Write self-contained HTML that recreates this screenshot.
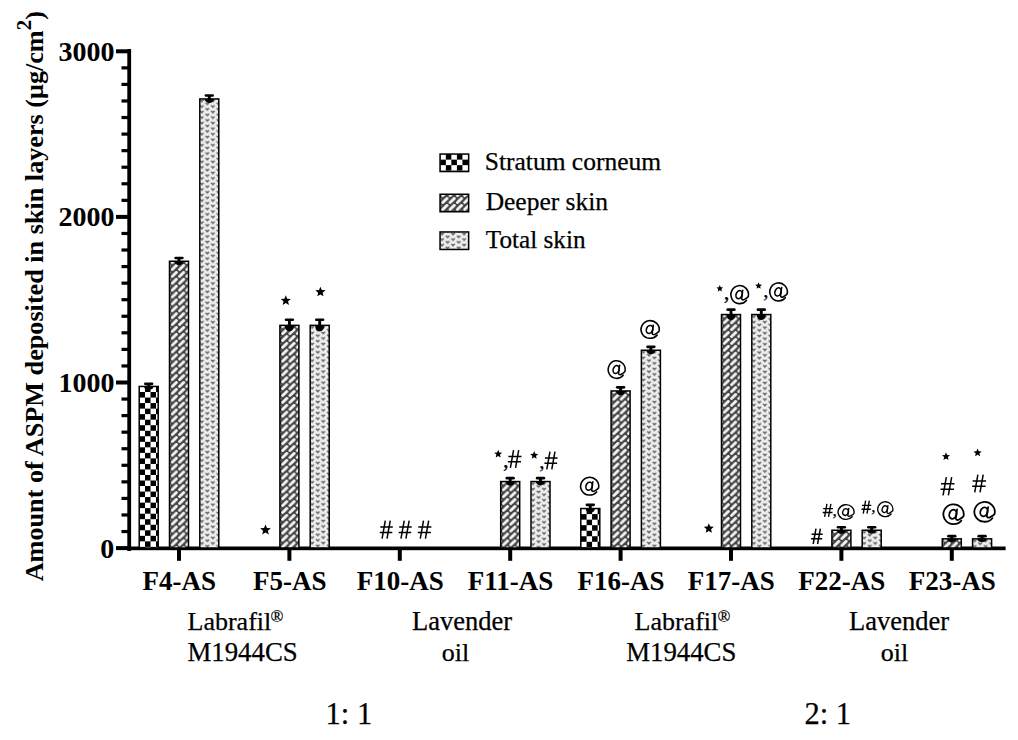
<!DOCTYPE html>
<html><head><meta charset="utf-8"><style>
html,body{margin:0;padding:0;background:#fff;}
svg{display:block;}
text{font-family:"Liberation Serif",serif;fill:#000;}
text.r{stroke:#000;stroke-width:0.25px;}
</style></head><body>
<svg width="1018" height="740" viewBox="0 0 1018 740">
<defs>
<pattern id="p0" patternUnits="userSpaceOnUse" width="11.06" height="11.06" x="139.45" y="386.50"><rect width="11.06" height="11.06" fill="#fff"/><rect x="5.53" width="5.53" height="5.53" fill="#000"/><rect y="5.53" width="5.53" height="5.53" fill="#000"/></pattern>
<pattern id="p1" patternUnits="userSpaceOnUse" width="7.3" height="6.88" x="170.75" y="264.10"><rect width="7.3" height="6.88" fill="#444"/><line x1="1.5" y1="5.4" x2="5.7" y2="1.4" stroke="#f2f2f2" stroke-width="2.9" stroke-linecap="round"/></pattern>
<pattern id="p2" patternUnits="userSpaceOnUse" width="11.06" height="5.53" x="199.05" y="98.20"><rect width="11.06" height="5.53" fill="#eeeeee"/><path d="M0.35 1.95Q1.55 0.65 2.75 2.25Q3.95 0.65 5.15 1.95L2.75 4.65Z" fill="#666"/><path d="M5.90 -0.80Q7.10 -2.10 8.30 -0.50Q9.50 -2.10 10.70 -0.80L8.30 1.90Z" fill="#666"/><path d="M5.90 4.73Q7.10 3.43 8.30 5.03Q9.50 3.43 10.70 4.73L8.30 7.43Z" fill="#666"/><path d="M0.35 -3.58Q1.55 -4.88 2.75 -3.28Q3.95 -4.88 5.15 -3.58L2.75 -0.88Z" fill="#666"/><path d="M11.40 1.95Q12.60 0.65 13.80 2.25Q15.00 0.65 16.20 1.95L13.80 4.65Z" fill="#666"/><path d="M-5.15 -0.80Q-3.95 -2.10 -2.75 -0.50Q-1.55 -2.10 -0.35 -0.80L-2.75 1.90Z" fill="#666"/><path d="M-5.15 4.73Q-3.95 3.43 -2.75 5.03Q-1.55 3.43 -0.35 4.73L-2.75 7.43Z" fill="#666"/></pattern>
<pattern id="p3" patternUnits="userSpaceOnUse" width="7.3" height="6.88" x="281.15" y="328.20"><rect width="7.3" height="6.88" fill="#444"/><line x1="1.5" y1="5.4" x2="5.7" y2="1.4" stroke="#f2f2f2" stroke-width="2.9" stroke-linecap="round"/></pattern>
<pattern id="p4" patternUnits="userSpaceOnUse" width="11.06" height="5.53" x="309.45" y="324.60"><rect width="11.06" height="5.53" fill="#eeeeee"/><path d="M0.35 1.95Q1.55 0.65 2.75 2.25Q3.95 0.65 5.15 1.95L2.75 4.65Z" fill="#666"/><path d="M5.90 -0.80Q7.10 -2.10 8.30 -0.50Q9.50 -2.10 10.70 -0.80L8.30 1.90Z" fill="#666"/><path d="M5.90 4.73Q7.10 3.43 8.30 5.03Q9.50 3.43 10.70 4.73L8.30 7.43Z" fill="#666"/><path d="M0.35 -3.58Q1.55 -4.88 2.75 -3.28Q3.95 -4.88 5.15 -3.58L2.75 -0.88Z" fill="#666"/><path d="M11.40 1.95Q12.60 0.65 13.80 2.25Q15.00 0.65 16.20 1.95L13.80 4.65Z" fill="#666"/><path d="M-5.15 -0.80Q-3.95 -2.10 -2.75 -0.50Q-1.55 -2.10 -0.35 -0.80L-2.75 1.90Z" fill="#666"/><path d="M-5.15 4.73Q-3.95 3.43 -2.75 5.03Q-1.55 3.43 -0.35 4.73L-2.75 7.43Z" fill="#666"/></pattern>
<pattern id="p5" patternUnits="userSpaceOnUse" width="7.3" height="6.88" x="501.95" y="484.40"><rect width="7.3" height="6.88" fill="#444"/><line x1="1.5" y1="5.4" x2="5.7" y2="1.4" stroke="#f2f2f2" stroke-width="2.9" stroke-linecap="round"/></pattern>
<pattern id="p6" patternUnits="userSpaceOnUse" width="11.06" height="5.53" x="530.25" y="480.80"><rect width="11.06" height="5.53" fill="#eeeeee"/><path d="M0.35 1.95Q1.55 0.65 2.75 2.25Q3.95 0.65 5.15 1.95L2.75 4.65Z" fill="#666"/><path d="M5.90 -0.80Q7.10 -2.10 8.30 -0.50Q9.50 -2.10 10.70 -0.80L8.30 1.90Z" fill="#666"/><path d="M5.90 4.73Q7.10 3.43 8.30 5.03Q9.50 3.43 10.70 4.73L8.30 7.43Z" fill="#666"/><path d="M0.35 -3.58Q1.55 -4.88 2.75 -3.28Q3.95 -4.88 5.15 -3.58L2.75 -0.88Z" fill="#666"/><path d="M11.40 1.95Q12.60 0.65 13.80 2.25Q15.00 0.65 16.20 1.95L13.80 4.65Z" fill="#666"/><path d="M-5.15 -0.80Q-3.95 -2.10 -2.75 -0.50Q-1.55 -2.10 -0.35 -0.80L-2.75 1.90Z" fill="#666"/><path d="M-5.15 4.73Q-3.95 3.43 -2.75 5.03Q-1.55 3.43 -0.35 4.73L-2.75 7.43Z" fill="#666"/></pattern>
<pattern id="p7" patternUnits="userSpaceOnUse" width="11.06" height="11.06" x="581.05" y="508.60"><rect width="11.06" height="11.06" fill="#fff"/><rect x="5.53" width="5.53" height="5.53" fill="#000"/><rect y="5.53" width="5.53" height="5.53" fill="#000"/></pattern>
<pattern id="p8" patternUnits="userSpaceOnUse" width="7.3" height="6.88" x="612.35" y="393.80"><rect width="7.3" height="6.88" fill="#444"/><line x1="1.5" y1="5.4" x2="5.7" y2="1.4" stroke="#f2f2f2" stroke-width="2.9" stroke-linecap="round"/></pattern>
<pattern id="p9" patternUnits="userSpaceOnUse" width="11.06" height="5.53" x="640.65" y="349.50"><rect width="11.06" height="5.53" fill="#eeeeee"/><path d="M0.35 1.95Q1.55 0.65 2.75 2.25Q3.95 0.65 5.15 1.95L2.75 4.65Z" fill="#666"/><path d="M5.90 -0.80Q7.10 -2.10 8.30 -0.50Q9.50 -2.10 10.70 -0.80L8.30 1.90Z" fill="#666"/><path d="M5.90 4.73Q7.10 3.43 8.30 5.03Q9.50 3.43 10.70 4.73L8.30 7.43Z" fill="#666"/><path d="M0.35 -3.58Q1.55 -4.88 2.75 -3.28Q3.95 -4.88 5.15 -3.58L2.75 -0.88Z" fill="#666"/><path d="M11.40 1.95Q12.60 0.65 13.80 2.25Q15.00 0.65 16.20 1.95L13.80 4.65Z" fill="#666"/><path d="M-5.15 -0.80Q-3.95 -2.10 -2.75 -0.50Q-1.55 -2.10 -0.35 -0.80L-2.75 1.90Z" fill="#666"/><path d="M-5.15 4.73Q-3.95 3.43 -2.75 5.03Q-1.55 3.43 -0.35 4.73L-2.75 7.43Z" fill="#666"/></pattern>
<pattern id="p10" patternUnits="userSpaceOnUse" width="7.3" height="6.88" x="722.75" y="317.40"><rect width="7.3" height="6.88" fill="#444"/><line x1="1.5" y1="5.4" x2="5.7" y2="1.4" stroke="#f2f2f2" stroke-width="2.9" stroke-linecap="round"/></pattern>
<pattern id="p11" patternUnits="userSpaceOnUse" width="11.06" height="5.53" x="751.05" y="313.80"><rect width="11.06" height="5.53" fill="#eeeeee"/><path d="M0.35 1.95Q1.55 0.65 2.75 2.25Q3.95 0.65 5.15 1.95L2.75 4.65Z" fill="#666"/><path d="M5.90 -0.80Q7.10 -2.10 8.30 -0.50Q9.50 -2.10 10.70 -0.80L8.30 1.90Z" fill="#666"/><path d="M5.90 4.73Q7.10 3.43 8.30 5.03Q9.50 3.43 10.70 4.73L8.30 7.43Z" fill="#666"/><path d="M0.35 -3.58Q1.55 -4.88 2.75 -3.28Q3.95 -4.88 5.15 -3.58L2.75 -0.88Z" fill="#666"/><path d="M11.40 1.95Q12.60 0.65 13.80 2.25Q15.00 0.65 16.20 1.95L13.80 4.65Z" fill="#666"/><path d="M-5.15 -0.80Q-3.95 -2.10 -2.75 -0.50Q-1.55 -2.10 -0.35 -0.80L-2.75 1.90Z" fill="#666"/><path d="M-5.15 4.73Q-3.95 3.43 -2.75 5.03Q-1.55 3.43 -0.35 4.73L-2.75 7.43Z" fill="#666"/></pattern>
<pattern id="p12" patternUnits="userSpaceOnUse" width="7.3" height="6.88" x="833.15" y="533.10"><rect width="7.3" height="6.88" fill="#444"/><line x1="1.5" y1="5.4" x2="5.7" y2="1.4" stroke="#f2f2f2" stroke-width="2.9" stroke-linecap="round"/></pattern>
<pattern id="p13" patternUnits="userSpaceOnUse" width="11.06" height="5.53" x="861.45" y="529.50"><rect width="11.06" height="5.53" fill="#eeeeee"/><path d="M0.35 1.95Q1.55 0.65 2.75 2.25Q3.95 0.65 5.15 1.95L2.75 4.65Z" fill="#666"/><path d="M5.90 -0.80Q7.10 -2.10 8.30 -0.50Q9.50 -2.10 10.70 -0.80L8.30 1.90Z" fill="#666"/><path d="M5.90 4.73Q7.10 3.43 8.30 5.03Q9.50 3.43 10.70 4.73L8.30 7.43Z" fill="#666"/><path d="M0.35 -3.58Q1.55 -4.88 2.75 -3.28Q3.95 -4.88 5.15 -3.58L2.75 -0.88Z" fill="#666"/><path d="M11.40 1.95Q12.60 0.65 13.80 2.25Q15.00 0.65 16.20 1.95L13.80 4.65Z" fill="#666"/><path d="M-5.15 -0.80Q-3.95 -2.10 -2.75 -0.50Q-1.55 -2.10 -0.35 -0.80L-2.75 1.90Z" fill="#666"/><path d="M-5.15 4.73Q-3.95 3.43 -2.75 5.03Q-1.55 3.43 -0.35 4.73L-2.75 7.43Z" fill="#666"/></pattern>
<pattern id="p14" patternUnits="userSpaceOnUse" width="7.3" height="6.88" x="943.55" y="541.70"><rect width="7.3" height="6.88" fill="#444"/><line x1="1.5" y1="5.4" x2="5.7" y2="1.4" stroke="#f2f2f2" stroke-width="2.9" stroke-linecap="round"/></pattern>
<pattern id="p15" patternUnits="userSpaceOnUse" width="11.06" height="5.53" x="971.85" y="538.10"><rect width="11.06" height="5.53" fill="#eeeeee"/><path d="M0.35 1.95Q1.55 0.65 2.75 2.25Q3.95 0.65 5.15 1.95L2.75 4.65Z" fill="#666"/><path d="M5.90 -0.80Q7.10 -2.10 8.30 -0.50Q9.50 -2.10 10.70 -0.80L8.30 1.90Z" fill="#666"/><path d="M5.90 4.73Q7.10 3.43 8.30 5.03Q9.50 3.43 10.70 4.73L8.30 7.43Z" fill="#666"/><path d="M0.35 -3.58Q1.55 -4.88 2.75 -3.28Q3.95 -4.88 5.15 -3.58L2.75 -0.88Z" fill="#666"/><path d="M11.40 1.95Q12.60 0.65 13.80 2.25Q15.00 0.65 16.20 1.95L13.80 4.65Z" fill="#666"/><path d="M-5.15 -0.80Q-3.95 -2.10 -2.75 -0.50Q-1.55 -2.10 -0.35 -0.80L-2.75 1.90Z" fill="#666"/><path d="M-5.15 4.73Q-3.95 3.43 -2.75 5.03Q-1.55 3.43 -0.35 4.73L-2.75 7.43Z" fill="#666"/></pattern>
<pattern id="L0" patternUnits="userSpaceOnUse" width="11.06" height="11.06" x="440.30" y="154.10"><rect width="11.06" height="11.06" fill="#fff"/><rect x="5.53" width="5.53" height="5.53" fill="#000"/><rect y="5.53" width="5.53" height="5.53" fill="#000"/></pattern>
<pattern id="L1" patternUnits="userSpaceOnUse" width="7.3" height="6.88" x="441.30" y="197.10"><rect width="7.3" height="6.88" fill="#444"/><line x1="1.5" y1="5.4" x2="5.7" y2="1.4" stroke="#f2f2f2" stroke-width="2.9" stroke-linecap="round"/></pattern>
<pattern id="L2" patternUnits="userSpaceOnUse" width="11.06" height="5.53" x="439.30" y="231.20"><rect width="11.06" height="5.53" fill="#eeeeee"/><path d="M0.35 1.95Q1.55 0.65 2.75 2.25Q3.95 0.65 5.15 1.95L2.75 4.65Z" fill="#666"/><path d="M5.90 -0.80Q7.10 -2.10 8.30 -0.50Q9.50 -2.10 10.70 -0.80L8.30 1.90Z" fill="#666"/><path d="M5.90 4.73Q7.10 3.43 8.30 5.03Q9.50 3.43 10.70 4.73L8.30 7.43Z" fill="#666"/><path d="M0.35 -3.58Q1.55 -4.88 2.75 -3.28Q3.95 -4.88 5.15 -3.58L2.75 -0.88Z" fill="#666"/><path d="M11.40 1.95Q12.60 0.65 13.80 2.25Q15.00 0.65 16.20 1.95L13.80 4.65Z" fill="#666"/><path d="M-5.15 -0.80Q-3.95 -2.10 -2.75 -0.50Q-1.55 -2.10 -0.35 -0.80L-2.75 1.90Z" fill="#666"/><path d="M-5.15 4.73Q-3.95 3.43 -2.75 5.03Q-1.55 3.43 -0.35 4.73L-2.75 7.43Z" fill="#666"/></pattern>
</defs>

<g fill="#000">
<rect x="127.3" y="49" width="3.8" height="502"/>
<rect x="127.3" y="546.5" width="878.3" height="3.7"/>
<rect x="116" y="546.10" width="13" height="4"/>
<rect x="121.5" y="529.94" width="7" height="3.2"/>
<rect x="121.5" y="513.38" width="7" height="3.2"/>
<rect x="121.5" y="496.82" width="7" height="3.2"/>
<rect x="121.5" y="480.26" width="7" height="3.2"/>
<rect x="121.5" y="463.70" width="7" height="3.2"/>
<rect x="121.5" y="447.14" width="7" height="3.2"/>
<rect x="121.5" y="430.58" width="7" height="3.2"/>
<rect x="121.5" y="414.02" width="7" height="3.2"/>
<rect x="121.5" y="397.46" width="7" height="3.2"/>
<rect x="116" y="380.50" width="13" height="4"/>
<rect x="121.5" y="364.34" width="7" height="3.2"/>
<rect x="121.5" y="347.78" width="7" height="3.2"/>
<rect x="121.5" y="331.22" width="7" height="3.2"/>
<rect x="121.5" y="314.66" width="7" height="3.2"/>
<rect x="121.5" y="298.10" width="7" height="3.2"/>
<rect x="121.5" y="281.54" width="7" height="3.2"/>
<rect x="121.5" y="264.98" width="7" height="3.2"/>
<rect x="121.5" y="248.42" width="7" height="3.2"/>
<rect x="121.5" y="231.86" width="7" height="3.2"/>
<rect x="116" y="214.90" width="13" height="4"/>
<rect x="121.5" y="198.74" width="7" height="3.2"/>
<rect x="121.5" y="182.18" width="7" height="3.2"/>
<rect x="121.5" y="165.62" width="7" height="3.2"/>
<rect x="121.5" y="149.06" width="7" height="3.2"/>
<rect x="121.5" y="132.50" width="7" height="3.2"/>
<rect x="121.5" y="115.94" width="7" height="3.2"/>
<rect x="121.5" y="99.38" width="7" height="3.2"/>
<rect x="121.5" y="82.82" width="7" height="3.2"/>
<rect x="121.5" y="66.26" width="7" height="3.2"/>
<rect x="116" y="49.30" width="13" height="4"/>
<rect x="177.00" y="548" width="4" height="12.8"/>
<rect x="287.40" y="548" width="4" height="12.8"/>
<rect x="397.80" y="548" width="4" height="12.8"/>
<rect x="508.20" y="548" width="4" height="12.8"/>
<rect x="618.60" y="548" width="4" height="12.8"/>
<rect x="729.00" y="548" width="4" height="12.8"/>
<rect x="839.40" y="548" width="4" height="12.8"/>
<rect x="949.80" y="548" width="4" height="12.8"/>
</g>
<rect x="139.20" y="386.45" width="19.00" height="161.55" fill="url(#p0)" stroke="#000" stroke-width="1.5"/>
<rect x="169.50" y="261.25" width="19.00" height="286.75" fill="url(#p1)" stroke="#000" stroke-width="1.5"/>
<rect x="199.80" y="98.95" width="19.00" height="449.05" fill="url(#p2)" stroke="#000" stroke-width="1.5"/>
<rect x="279.90" y="325.35" width="19.00" height="222.65" fill="url(#p3)" stroke="#000" stroke-width="1.5"/>
<rect x="310.20" y="325.35" width="19.00" height="222.65" fill="url(#p4)" stroke="#000" stroke-width="1.5"/>
<rect x="500.70" y="481.55" width="19.00" height="66.45" fill="url(#p5)" stroke="#000" stroke-width="1.5"/>
<rect x="531.00" y="481.55" width="19.00" height="66.45" fill="url(#p6)" stroke="#000" stroke-width="1.5"/>
<rect x="580.80" y="508.55" width="19.00" height="39.45" fill="url(#p7)" stroke="#000" stroke-width="1.5"/>
<rect x="611.10" y="390.95" width="19.00" height="157.05" fill="url(#p8)" stroke="#000" stroke-width="1.5"/>
<rect x="641.40" y="350.25" width="19.00" height="197.75" fill="url(#p9)" stroke="#000" stroke-width="1.5"/>
<rect x="721.50" y="314.55" width="19.00" height="233.45" fill="url(#p10)" stroke="#000" stroke-width="1.5"/>
<rect x="751.80" y="314.55" width="19.00" height="233.45" fill="url(#p11)" stroke="#000" stroke-width="1.5"/>
<rect x="831.90" y="530.25" width="19.00" height="17.75" fill="url(#p12)" stroke="#000" stroke-width="1.5"/>
<rect x="862.20" y="530.25" width="19.00" height="17.75" fill="url(#p13)" stroke="#000" stroke-width="1.5"/>
<rect x="942.30" y="538.85" width="19.00" height="9.15" fill="url(#p14)" stroke="#000" stroke-width="1.5"/>
<rect x="972.60" y="538.85" width="19.00" height="9.15" fill="url(#p15)" stroke="#000" stroke-width="1.5"/>
<path d="M148.70 383.85V387.45" stroke="#000" stroke-width="2.9" fill="none"/>
<path d="M145.30 383.85H152.10" stroke="#000" stroke-width="2.6" fill="none" stroke-linecap="round"/>
<path d="M144.10 386.45A4.6 3.20 0 0 0 153.30 386.45Z" fill="#000"/>
<path d="M179.00 258.05V262.25" stroke="#000" stroke-width="2.9" fill="none"/>
<path d="M175.60 258.05H182.40" stroke="#000" stroke-width="2.6" fill="none" stroke-linecap="round"/>
<path d="M174.40 261.25A4.6 3.80 0 0 0 183.60 261.25Z" fill="#000"/>
<path d="M209.30 95.45V99.95" stroke="#000" stroke-width="2.9" fill="none"/>
<path d="M205.90 95.45H212.70" stroke="#000" stroke-width="2.6" fill="none" stroke-linecap="round"/>
<path d="M204.70 98.95A4.6 4.10 0 0 0 213.90 98.95Z" fill="#000"/>
<path d="M289.40 319.75V326.35" stroke="#000" stroke-width="2.9" fill="none"/>
<path d="M286.00 319.75H292.80" stroke="#000" stroke-width="2.6" fill="none" stroke-linecap="round"/>
<path d="M284.80 325.35A4.6 6.20 0 0 0 294.00 325.35Z" fill="#000"/>
<path d="M319.70 319.75V326.35" stroke="#000" stroke-width="2.9" fill="none"/>
<path d="M316.30 319.75H323.10" stroke="#000" stroke-width="2.6" fill="none" stroke-linecap="round"/>
<path d="M315.10 325.35A4.6 6.20 0 0 0 324.30 325.35Z" fill="#000"/>
<path d="M510.20 478.15V482.55" stroke="#000" stroke-width="2.9" fill="none"/>
<path d="M506.80 478.15H513.60" stroke="#000" stroke-width="2.6" fill="none" stroke-linecap="round"/>
<path d="M505.60 481.55A4.6 4.00 0 0 0 514.80 481.55Z" fill="#000"/>
<path d="M540.50 478.15V482.55" stroke="#000" stroke-width="2.9" fill="none"/>
<path d="M537.10 478.15H543.90" stroke="#000" stroke-width="2.6" fill="none" stroke-linecap="round"/>
<path d="M535.90 481.55A4.6 4.00 0 0 0 545.10 481.55Z" fill="#000"/>
<path d="M590.30 504.85V509.55" stroke="#000" stroke-width="2.9" fill="none"/>
<path d="M586.90 504.85H593.70" stroke="#000" stroke-width="2.6" fill="none" stroke-linecap="round"/>
<path d="M585.70 508.55A4.6 4.30 0 0 0 594.90 508.55Z" fill="#000"/>
<path d="M620.60 387.35V391.95" stroke="#000" stroke-width="2.9" fill="none"/>
<path d="M617.20 387.35H624.00" stroke="#000" stroke-width="2.6" fill="none" stroke-linecap="round"/>
<path d="M616.00 390.95A4.6 4.20 0 0 0 625.20 390.95Z" fill="#000"/>
<path d="M650.90 346.85V351.25" stroke="#000" stroke-width="2.9" fill="none"/>
<path d="M647.50 346.85H654.30" stroke="#000" stroke-width="2.6" fill="none" stroke-linecap="round"/>
<path d="M646.30 350.25A4.6 4.00 0 0 0 655.50 350.25Z" fill="#000"/>
<path d="M731.00 309.65V315.55" stroke="#000" stroke-width="2.9" fill="none"/>
<path d="M727.60 309.65H734.40" stroke="#000" stroke-width="2.6" fill="none" stroke-linecap="round"/>
<path d="M726.40 314.55A4.6 5.50 0 0 0 735.60 314.55Z" fill="#000"/>
<path d="M761.30 309.65V315.55" stroke="#000" stroke-width="2.9" fill="none"/>
<path d="M757.90 309.65H764.70" stroke="#000" stroke-width="2.6" fill="none" stroke-linecap="round"/>
<path d="M756.70 314.55A4.6 5.50 0 0 0 765.90 314.55Z" fill="#000"/>
<path d="M841.40 527.25V531.25" stroke="#000" stroke-width="2.9" fill="none"/>
<path d="M838.00 527.25H844.80" stroke="#000" stroke-width="2.6" fill="none" stroke-linecap="round"/>
<path d="M836.80 530.25A4.6 3.60 0 0 0 846.00 530.25Z" fill="#000"/>
<path d="M871.70 527.25V531.25" stroke="#000" stroke-width="2.9" fill="none"/>
<path d="M868.30 527.25H875.10" stroke="#000" stroke-width="2.6" fill="none" stroke-linecap="round"/>
<path d="M867.10 530.25A4.6 3.60 0 0 0 876.30 530.25Z" fill="#000"/>
<path d="M951.80 536.15V539.85" stroke="#000" stroke-width="2.9" fill="none"/>
<path d="M948.40 536.15H955.20" stroke="#000" stroke-width="2.6" fill="none" stroke-linecap="round"/>
<path d="M947.20 538.85A4.6 3.30 0 0 0 956.40 538.85Z" fill="#000"/>
<path d="M982.10 536.15V539.85" stroke="#000" stroke-width="2.9" fill="none"/>
<path d="M978.70 536.15H985.50" stroke="#000" stroke-width="2.6" fill="none" stroke-linecap="round"/>
<path d="M977.50 538.85A4.6 3.30 0 0 0 986.70 538.85Z" fill="#000"/>
<rect x="440.05" y="154.05" width="28.6" height="17.5" fill="url(#L0)" stroke="#000" stroke-width="1.5"/>
<rect x="440.05" y="194.25" width="28.6" height="17.5" fill="url(#L1)" stroke="#000" stroke-width="1.5"/>
<rect x="440.05" y="231.95" width="28.6" height="17.5" fill="url(#L2)" stroke="#000" stroke-width="1.5"/>
<text class="r" x="484.74" y="169.75" font-size="25.5" font-weight="normal" >Stratum corneum</text>
<text class="r" x="485.63" y="210.10" font-size="25.5" font-weight="normal" >Deeper skin</text>
<text class="r" x="485.80" y="247.65" font-size="25.2" font-weight="normal" >Total skin</text>
<text x="58.62" y="61.02" font-size="28" font-weight="bold" >3000</text>
<text x="58.52" y="226.32" font-size="28" font-weight="bold" >2000</text>
<text x="58.62" y="392.22" font-size="28" font-weight="bold" >1000</text>
<text x="100.32" y="558.32" font-size="28" font-weight="bold" >0</text>
<text x="142.62" y="589.53" font-size="27" font-weight="bold" >F4-AS</text>
<text x="253.02" y="589.53" font-size="27" font-weight="bold" >F5-AS</text>
<text x="356.67" y="589.53" font-size="27" font-weight="bold" >F10-AS</text>
<text x="467.81" y="589.53" font-size="27" font-weight="bold" >F11-AS</text>
<text x="577.47" y="589.53" font-size="27" font-weight="bold" >F16-AS</text>
<text x="687.87" y="589.53" font-size="27" font-weight="bold" >F17-AS</text>
<text x="798.27" y="589.53" font-size="27" font-weight="bold" >F22-AS</text>
<text x="908.67" y="589.53" font-size="27" font-weight="bold" >F23-AS</text>
<text class="r" x="187.52" y="630.34" font-size="26" font-weight="normal" >Labrafil</text>
<text class="r" x="270.54" y="621.53" font-size="17" font-weight="normal" >®</text>
<text class="r" x="187.50" y="660.53" font-size="26.8" font-weight="normal" >M1944CS</text>
<text class="r" x="412.10" y="629.84" font-size="26.5" font-weight="normal" >Lavender</text>
<text class="r" x="441.76" y="660.74" font-size="26" font-weight="normal" >oil</text>
<text class="r" x="634.52" y="630.34" font-size="26" font-weight="normal" >Labrafil</text>
<text class="r" x="717.53" y="621.53" font-size="17" font-weight="normal" >®</text>
<text class="r" x="626.20" y="660.53" font-size="26.8" font-weight="normal" >M1944CS</text>
<text class="r" x="849.00" y="629.84" font-size="26.5" font-weight="normal" >Lavender</text>
<text class="r" x="880.76" y="660.74" font-size="26" font-weight="normal" >oil</text>
<text class="r" x="325.56" y="724.14" font-size="30.5" font-weight="normal" >1: 1</text>
<text class="r" x="804.53" y="724.14" font-size="30.5" font-weight="normal" >2: 1</text>
<g transform="translate(43.2,581.3) rotate(-90)">
<text x="0" y="0" font-size="26.2" font-weight="bold">Amount of ASPM deposited in skin layers (μg/cm<tspan font-size="21" dy="-12">2</tspan><tspan dy="12">)</tspan></text>
</g>
<polygon points="265.50,524.40 266.98,527.96 270.83,528.27 267.90,530.78 268.79,534.53 265.50,532.52 262.21,534.53 263.10,530.78 260.17,528.27 264.02,527.96" fill="#000"/>
<polygon points="285.80,295.30 287.20,298.67 290.84,298.96 288.07,301.34 288.92,304.89 285.80,302.99 282.68,304.89 283.53,301.34 280.76,298.96 284.40,298.67" fill="#000"/>
<polygon points="320.40,286.70 321.80,290.07 325.44,290.36 322.67,292.74 323.52,296.29 320.40,294.38 317.28,296.29 318.13,292.74 315.36,290.36 319.00,290.07" fill="#000"/>
<path d="M382.08 538.60L385.32 520.60M387.02 538.60L390.26 520.60M380.30 527.08H392.80M379.80 532.48H392.30" stroke="#000" stroke-width="1.5" fill="none"/>
<path d="M400.98 538.60L404.22 520.60M405.92 538.60L409.16 520.60M399.20 527.08H411.70M398.70 532.48H411.20" stroke="#000" stroke-width="1.5" fill="none"/>
<path d="M420.26 538.60L423.50 520.60M425.43 538.60L428.67 520.60M418.30 527.08H431.40M417.80 532.48H430.90" stroke="#000" stroke-width="1.5" fill="none"/>
<polygon points="498.20,449.80 499.31,452.47 502.19,452.70 500.00,454.58 500.67,457.40 498.20,455.89 495.73,457.40 496.40,454.58 494.21,452.70 497.09,452.47" fill="#000"/>
<text class="r" x="502.89" y="467.00" font-size="22.7" font-weight="normal" >,</text>
<path d="M510.40 467.80L513.56 450.20M515.56 467.80L518.73 450.20M508.40 456.54H521.50M507.90 461.82H521.00" stroke="#000" stroke-width="1.5" fill="none"/>
<polygon points="534.20,451.10 535.31,453.77 538.19,454.00 536.00,455.88 536.67,458.70 534.20,457.19 531.73,458.70 532.40,455.88 530.21,454.00 533.09,453.77" fill="#000"/>
<text class="r" x="539.15" y="468.32" font-size="21.2" font-weight="normal" >,</text>
<path d="M546.77 469.30L549.95 451.60M551.78 469.30L554.97 451.60M544.90 457.97H557.60M544.40 463.28H557.10" stroke="#000" stroke-width="1.5" fill="none"/>
<path d="M598.54 488.04A9.04 8.86 0 1 0 596.63 491.89M592.80 481.89L591.70 490.12Q592.10 492.08 594.70 490.90Q597.70 489.34 598.54 488.04" fill="none" stroke="#000" stroke-width="1.58" stroke-linecap="round"/><ellipse cx="589.10" cy="486.20" rx="3.10" ry="4.12" transform="rotate(20 589.10 486.20)" fill="none" stroke="#000" stroke-width="1.58"/>
<path d="M625.01 371.38A8.50 8.81 0 1 0 623.21 375.22M619.61 365.26L618.58 373.45Q618.96 375.40 621.40 374.23Q624.22 372.67 625.01 371.38" fill="none" stroke="#000" stroke-width="1.53" stroke-linecap="round"/><ellipse cx="616.14" cy="369.55" rx="2.91" ry="4.09" transform="rotate(20 616.14 369.55)" fill="none" stroke="#000" stroke-width="1.53"/>
<path d="M659.04 331.28A9.09 8.81 0 1 0 657.11 335.12M653.27 325.16L652.16 333.35Q652.56 335.30 655.18 334.13Q658.19 332.57 659.04 331.28" fill="none" stroke="#000" stroke-width="1.58" stroke-linecap="round"/><ellipse cx="649.55" cy="329.45" rx="3.12" ry="4.09" transform="rotate(20 649.55 329.45)" fill="none" stroke="#000" stroke-width="1.58"/>
<polygon points="708.80,523.20 710.20,526.57 713.84,526.86 711.07,529.24 711.92,532.79 708.80,530.88 705.68,532.79 706.53,529.24 703.76,526.86 707.40,526.57" fill="#000"/>
<polygon points="719.80,285.00 720.75,287.29 723.22,287.49 721.34,289.10 721.92,291.51 719.80,290.22 717.68,291.51 718.26,289.10 716.38,287.49 718.85,287.29" fill="#000"/>
<text class="r" x="723.69" y="299.00" font-size="22.7" font-weight="normal" >,</text>
<path d="M748.28 296.48A8.77 9.04 0 1 0 746.42 300.41M742.71 290.20L741.64 298.60Q742.03 300.60 744.55 299.40Q747.46 297.80 748.28 296.48" fill="none" stroke="#000" stroke-width="1.58" stroke-linecap="round"/><ellipse cx="739.12" cy="294.60" rx="3.01" ry="4.20" transform="rotate(20 739.12 294.60)" fill="none" stroke="#000" stroke-width="1.58"/>
<polygon points="758.60,282.30 759.55,284.59 762.02,284.79 760.14,286.40 760.72,288.81 758.60,287.52 756.48,288.81 757.06,286.40 755.18,284.79 757.65,284.59" fill="#000"/>
<text class="r" x="763.17" y="297.18" font-size="20.8" font-weight="normal" >,</text>
<path d="M787.18 293.78A8.77 9.04 0 1 0 785.32 297.71M781.61 287.50L780.54 295.90Q780.93 297.90 783.45 296.70Q786.36 295.10 787.18 293.78" fill="none" stroke="#000" stroke-width="1.58" stroke-linecap="round"/><ellipse cx="778.02" cy="291.90" rx="3.01" ry="4.20" transform="rotate(20 778.02 291.90)" fill="none" stroke="#000" stroke-width="1.58"/>
<path d="M813.19 544.00L815.97 528.60M817.60 544.00L820.37 528.60M811.60 534.14H822.70M811.10 538.76H822.20" stroke="#000" stroke-width="1.5" fill="none"/>
<path d="M824.62 516.90L826.96 503.90M828.53 516.90L830.87 503.90M823.20 508.58H833.00M822.70 512.48H832.50" stroke="#000" stroke-width="1.35" fill="none"/>
<text class="r" x="832.59" y="515.64" font-size="17.7" font-weight="normal" >,</text>
<path d="M853.88 513.58A8.00 7.37 0 1 0 852.18 516.79M848.79 508.46L847.82 515.31Q848.17 516.94 850.48 515.96Q853.13 514.66 853.88 513.58" fill="none" stroke="#000" stroke-width="1.36" stroke-linecap="round"/><ellipse cx="845.52" cy="512.05" rx="2.74" ry="3.42" transform="rotate(20 845.52 512.05)" fill="none" stroke="#000" stroke-width="1.36"/>
<path d="M863.26 513.70L865.62 500.60M866.99 513.70L869.34 500.60M862.00 505.32H871.30M861.50 509.25H870.80" stroke="#000" stroke-width="1.35" fill="none"/>
<text class="r" x="871.31" y="512.40" font-size="17.3" font-weight="normal" >,</text>
<path d="M892.73 510.74A7.59 7.41 0 1 0 891.12 513.96M887.90 505.59L886.98 512.48Q887.32 514.12 889.50 513.14Q892.02 511.82 892.73 510.74" fill="none" stroke="#000" stroke-width="1.33" stroke-linecap="round"/><ellipse cx="884.80" cy="509.20" rx="2.60" ry="3.44" transform="rotate(20 884.80 509.20)" fill="none" stroke="#000" stroke-width="1.33"/>
<polygon points="946.00,452.20 947.14,454.93 950.09,455.17 947.84,457.10 948.53,459.98 946.00,458.44 943.47,459.98 944.16,457.10 941.91,455.17 944.86,454.93" fill="#000"/>
<path d="M943.05 495.40L946.35 477.10M948.37 495.40L951.67 477.10M941.00 483.69H954.50M940.50 489.18H954.00" stroke="#000" stroke-width="1.5" fill="none"/>
<path d="M963.50 516.31A10.17 9.90 0 1 0 961.34 520.61M957.04 509.43L955.80 518.63Q956.25 520.82 959.17 519.51Q962.55 517.75 963.50 516.31" fill="none" stroke="#000" stroke-width="1.78" stroke-linecap="round"/><ellipse cx="952.88" cy="514.25" rx="3.49" ry="4.60" transform="rotate(20 952.88 514.25)" fill="none" stroke="#000" stroke-width="1.78"/>
<polygon points="977.60,448.50 978.74,451.23 981.69,451.47 979.44,453.40 980.13,456.28 977.60,454.74 975.07,456.28 975.76,453.40 973.51,451.47 976.46,451.23" fill="#000"/>
<path d="M974.72 492.30L977.88 474.70M980.04 492.30L983.20 474.70M972.60 481.04H986.10M972.10 486.32H985.60" stroke="#000" stroke-width="1.5" fill="none"/>
<path d="M994.59 513.91A10.22 9.90 0 1 0 992.43 518.21M988.10 507.03L986.86 516.23Q987.31 518.42 990.25 517.11Q993.64 515.35 994.59 513.91" fill="none" stroke="#000" stroke-width="1.78" stroke-linecap="round"/><ellipse cx="983.92" cy="511.85" rx="3.50" ry="4.60" transform="rotate(20 983.92 511.85)" fill="none" stroke="#000" stroke-width="1.78"/>
</svg></body></html>
